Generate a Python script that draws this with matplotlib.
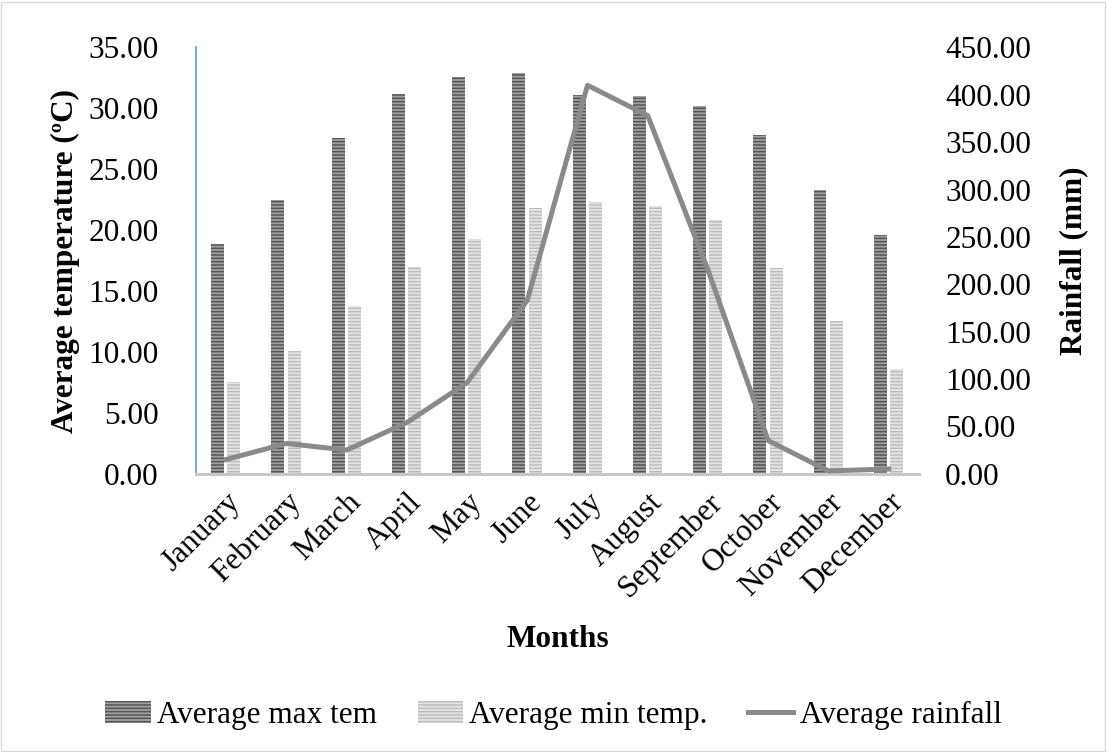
import numpy as np
import matplotlib.pyplot as plt
from matplotlib.patches import Rectangle

plt.rcParams["font.family"] = ["Liberation Serif", "DejaVu Serif"]
plt.rcParams["hatch.linewidth"] = 1.1

months = ["January", "February", "March", "April", "May", "June",
          "July", "August", "September", "October", "November", "December"]
max_temp = [18.9, 22.5, 27.6, 31.2, 32.6, 32.9, 31.1, 31.0, 30.2, 27.8, 23.3, 19.6]
min_temp = [7.5, 10.1, 13.8, 17.0, 19.3, 21.8, 22.3, 22.0, 20.8, 16.9, 12.5, 8.6]
rainfall = [15, 32, 25, 54, 96, 183, 410, 378, 215, 35, 3, 5]

fs = 22.5
x = np.arange(len(months))
w = 0.215

fig = plt.figure(figsize=(11.07, 7.52), dpi=100)
ax = fig.add_axes([0.177, 0.370, 0.653, 0.567])

# hatched bars: horizontal stripes like the original office chart fill
ax.bar(x - 0.14, max_temp, w, color="#a0a0a0", edgecolor="#555555",
       hatch="-----", linewidth=0, label="Average max tem")
ax.bar(x + 0.13, min_temp, w, color="#e4e4e4", edgecolor="#bdbdbd",
       hatch="-----", linewidth=0, label="Average min temp.")

ax.set_ylim(0, 35)
ax.set_xlim(-0.5, 11.5)
ax.set_yticks(np.arange(0, 35.1, 5))
ax.set_yticklabels([f"{v:.2f}" for v in np.arange(0, 35.1, 5)], fontsize=fs)
ax.set_xticks(x)
ax.set_xticklabels(months, rotation=45, ha="right", rotation_mode="anchor", fontsize=fs)
ax.tick_params(length=0)
ax.tick_params(axis="x", pad=10)
ax.tick_params(axis="y", pad=27)
ax.set_ylabel("Average temperature (ºC)", fontsize=fs, fontweight="bold", labelpad=6)
ax.set_xlabel("Months", fontsize=fs, fontweight="bold", labelpad=16)

for s in ["top", "right"]:
    ax.spines[s].set_visible(False)
ax.spines["left"].set_color("#5b9bd5")
ax.spines["left"].set_linewidth(1.2)
ax.spines["bottom"].set_color("#c8c8c8")
ax.spines["bottom"].set_linewidth(2.2)

ax2 = ax.twinx()
ax2.plot(x, rainfall, color="#8a8a8a", linewidth=3.6, label="Average rainfall")
ax2.set_ylim(0, 450)
ax2.set_yticks(np.arange(0, 451, 50))
ax2.set_yticklabels([f"{v:.2f}" for v in np.arange(0, 451, 50)], fontsize=fs)
ax2.tick_params(length=0, pad=19)
ax2.set_ylabel("Rainfall (mm)", fontsize=fs, fontweight="bold", labelpad=20)
for s in ["top", "right", "left", "bottom"]:
    ax2.spines[s].set_visible(False)

h1, l1 = ax.get_legend_handles_labels()
h2, l2 = ax2.get_legend_handles_labels()
fig.legend(h1 + h2, l1 + l2, loc="lower center", bbox_to_anchor=(0.5, -0.008),
           ncol=3, frameon=False, fontsize=fs, handlelength=1.45,
           handletextpad=0.2, columnspacing=1.3)

fig.patches.append(Rectangle((0.001, 0.001), 0.997, 0.997, transform=fig.transFigure,
                             fill=False, edgecolor="#d9d9d9", linewidth=1))

fig.savefig("out.png", dpi=100)
